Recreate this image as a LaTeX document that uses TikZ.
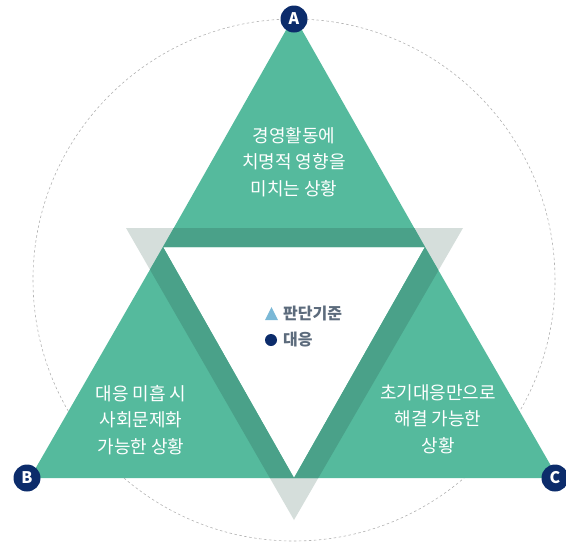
\documentclass[tikz,border=0pt]{standalone}
\usepackage{fontspec}
\setmainfont{Noto Sans CJK KR}
\usepackage{xcolor}
\usetikzlibrary{positioning}
\definecolor{tgreen}{HTML}{55BA9D}
\definecolor{tdark}{HTML}{4AA189}
\definecolor{tgray}{HTML}{D5DEDB}
\definecolor{tnavy}{HTML}{0C2C6B}
\definecolor{tsky}{HTML}{7AB8D6}
\definecolor{tslate}{HTML}{5C6B7C}
\tikzset{
  casetext/.style = {align = center, text = white, font = \fontsize{18pt}{26.5pt}\selectfont},
  marker/.style = {circle, fill = tnavy, text = white, minimum size = 27pt, inner sep = 0pt, font = \fontsize{16pt}{16pt}\selectfont\bfseries},
  legendtext/.style = {text = tslate, anchor = west, inner sep = 0pt, font = \fontsize{16pt}{16pt}\selectfont\bfseries}
}

\begin{document}
\begin{tikzpicture}[x = 1pt, y = -1pt]
\useasboundingbox (0,0) rectangle (566,547);
% corners of the three cases and of the frame
\coordinate (pA) at (294,16);
\coordinate (pB) at (30,478);
\coordinate (pC) at (558,478);
\coordinate (qL) at (163,247);
\coordinate (qR) at (425,247);
\coordinate (qD) at (294,478);
\coordinate (oL) at (126,228);
\coordinate (oR) at (463,228);
\coordinate (oD) at (294,520);
\draw[gray!60, line width = .6pt, dash pattern = on 2.5pt off 2.5pt] (294,280) circle (261pt);
\fill[tgray, even odd rule] (oL) -- (oR) -- (oD) -- cycle (qL) -- (qR) -- (qD) -- cycle;
\fill[tgreen] (pA) -- (qR) -- (qL) -- cycle;
\fill[tgreen] (qL) -- (qD) -- (pB) -- cycle;
\fill[tgreen] (qR) -- (pC) -- (qD) -- cycle;
\begin{scope}
\clip (pA) -- (qR) -- (qL) -- cycle (qL) -- (qD) -- (pB) -- cycle (qR) -- (pC) -- (qD) -- cycle;
\fill[tdark, even odd rule] (oL) -- (oR) -- (oD) -- cycle (qL) -- (qR) -- (qD) -- cycle;
\end{scope}
\node[casetext] (caseA) at (294,162) {경영활동에\\치명적 영향을\\미치는 상황};
\node[casetext] (caseB) at (141,420) {대응 미흡 시\\사회문제화\\가능한 상황};
\node[casetext] (caseC) at (438,419) {초기대응만으로\\해결 가능한\\상황};
\node[marker] (mA) at (294,19) {A};
\node[marker] (mB) at (27,478) {B};
\node[marker] (mC) at (555,478) {C};
\node[legendtext] (lgcrit) at (283,313) {판단기준};
\node[legendtext] (lgresp) at (283,340) {대응};
\fill[tsky] (265,320) -- (278,320) -- (271.5,307) -- cycle;
\fill[tnavy] (271,340) circle (6pt);
\end{tikzpicture}
\end{document}
